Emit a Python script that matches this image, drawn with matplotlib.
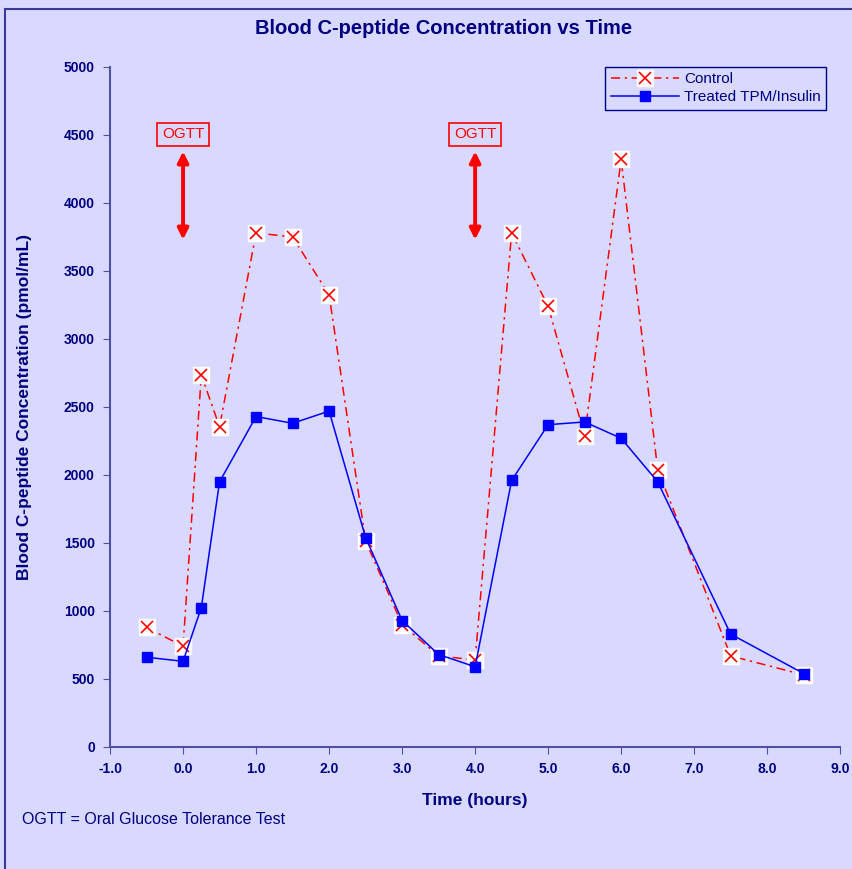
import matplotlib
matplotlib.use("Agg")
import matplotlib.pyplot as plt
from matplotlib.patches import Rectangle
from matplotlib.lines import Line2D
from matplotlib.legend_handler import HandlerTuple

plt.rcParams['font.family'] = ['Liberation Sans', 'DejaVu Sans']

time = [-0.5, 0.0, 0.25, 0.5, 1.0, 1.5, 2.0, 2.5, 3.0, 3.5, 4.0, 4.5, 5.0, 5.5, 6.0, 6.5, 7.5, 8.5]
control = [880, 740, 2735, 2355, 3780, 3750, 3325, 1515, 900, 670, 640, 3780, 3240, 2290, 4320, 2040, 670, 530]
treated = [660, 630, 1025, 1950, 2430, 2380, 2470, 1540, 930, 680, 590, 1960, 2370, 2390, 2270, 1950, 830, 540]
ogtt_times = [0.0, 4.0]
xticks = [-1.0, 0.0, 1.0, 2.0, 3.0, 4.0, 5.0, 6.0, 7.0, 8.0, 9.0]
yticks = list(range(0, 5001, 500))

navy = '#000080'
bg = '#D9D9FF'

fig = plt.figure(figsize=(8.53, 8.69), dpi=100, facecolor=bg)
ax = fig.add_axes([0.129, 0.1404, 0.856, 0.7825])
ax.set_facecolor(bg)

# figure border
fig.patches.append(Rectangle((5/853, -0.1), 1.2, (869-9)/869 + 0.1, transform=fig.transFigure,
                             fill=False, edgecolor='#3A3A9A', linewidth=1.5, zorder=0))

dash = (6, 3, 1.5, 3)
# control
ax.plot(time, control, color='red', lw=1.1, dashes=dash, zorder=2)
ax.plot(time, control, ls='none', marker='s', ms=11, mfc='white', mec='white', zorder=3)
ax.plot(time, control, ls='none', marker='x', ms=8, mec='red', mew=1.2, zorder=4)
# treated
ax.plot(time, treated, color='blue', lw=1.1, marker='s', ms=7.5, mfc='blue', mec='blue', zorder=5)

# OGTT markers
for t in ogtt_times:
    ax.annotate('', xy=(t, 3730), xytext=(t, 4380),
                arrowprops=dict(arrowstyle='<|-|>', color='red', lw=2.8, mutation_scale=16, shrinkA=0, shrinkB=0))
    ax.text(t, 4505, 'OGTT', color='red', ha='center', va='center', fontsize=11,
            bbox=dict(boxstyle='square,pad=0.3', fc=bg, ec='red', lw=1.2))

ax.set_xlim(-1, 9)
ax.set_ylim(0, 5000)
ax.set_xticks(xticks)
ax.set_xticklabels([f'{v:.1f}' for v in xticks])
ax.set_yticks(yticks)
ax.set_yticklabels([str(v) for v in yticks])
for s in ['top', 'right']:
    ax.spines[s].set_visible(False)
for s in ['left', 'bottom']:
    ax.spines[s].set_color('#5050A0')
    ax.spines[s].set_linewidth(1.5)
ax.tick_params(axis='both', direction='out', length=5, color='#5050A0', labelcolor=navy, labelsize=10, pad=6)
for lab in ax.get_xticklabels() + ax.get_yticklabels():
    lab.set_fontweight('bold')

ax.set_xlabel('Time (hours)', fontsize=12.5, fontweight='bold', color=navy, labelpad=12)
ax.set_ylabel('Blood C-peptide Concentration (pmol/mL)', fontsize=12.5, fontweight='bold', color=navy)
ax.yaxis.set_label_coords(-0.107, 0.5)
fig.text(0.52, 1 - 28/869, 'Blood C-peptide Concentration vs Time', ha='center', va='center',
         fontsize=14.5, fontweight='bold', color=navy)
fig.text(22/853, 1 - 819/869, 'OGTT = Oral Glucose Tolerance Test', ha='left', va='center', fontsize=11.5, color=navy)

h_ctrl = (Line2D([], [], color='red', lw=1.1, dashes=dash),
          Line2D([], [], ls='none', marker='s', ms=11, mfc='white', mec='white'),
          Line2D([], [], ls='none', marker='x', ms=8, mec='red', mew=1.2))
h_trt = Line2D([], [], color='blue', lw=1.1, marker='s', ms=7.5, mfc='blue', mec='blue')
leg = ax.legend([h_ctrl, h_trt], ['Control', 'Treated TPM/Insulin'],
                handler_map={tuple: HandlerTuple(ndivide=1, pad=0)},
                loc='upper right', bbox_to_anchor=(826/853, 1 - 67/869), bbox_transform=fig.transFigure,
                borderaxespad=0,
                frameon=True, fancybox=False, facecolor=bg, edgecolor=navy, framealpha=1,
                fontsize=11, handlelength=4.5, borderpad=0.35, labelspacing=0.25, handletextpad=0.3)
leg.get_frame().set_linewidth(1.0)
for t in leg.get_texts():
    t.set_color(navy)

fig.savefig('out.png', dpi=100, facecolor=bg)
